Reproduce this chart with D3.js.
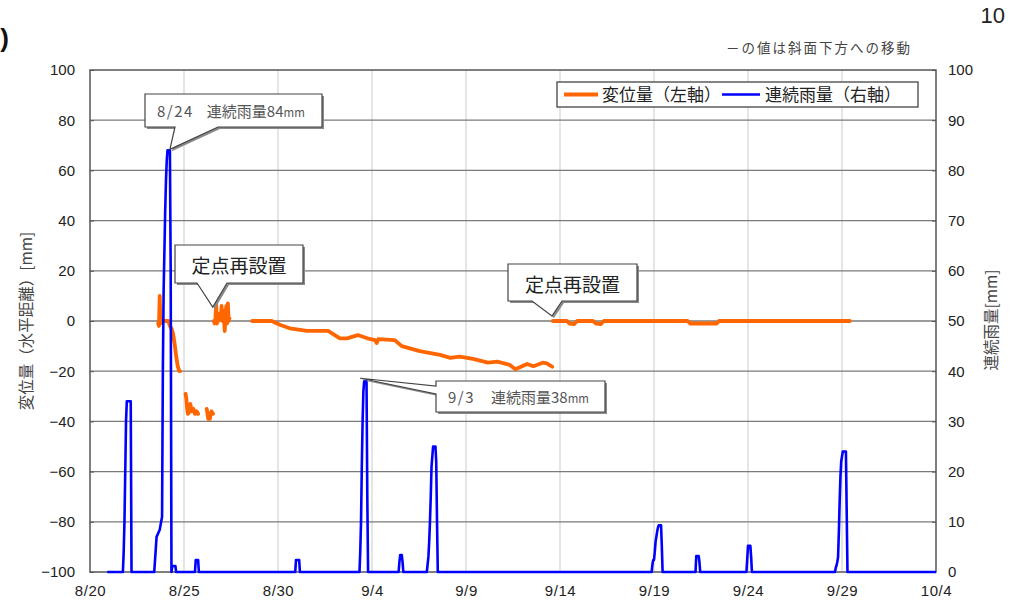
<!DOCTYPE html>
<html>
<head>
<meta charset="utf-8">
<script src="https://cdn.jsdelivr.net/npm/d3@7"></script>
<style>
  body { margin: 0; background: #fff; }
  svg { display: block; }
</style>
</head>
<body>
<svg id="chart" width="1012" height="604"></svg>
<script>
// ---- data -------------------------------------------------------------
// hourly cumulative rainfall [mm] (right axis)
const rainSeries = [
  ["8/20 22:00", 0], ["8/21 18:00", 0], ["8/21 19:00", 4], ["8/21 20:00", 10],
  ["8/21 21:00", 20], ["8/21 22:00", 30], ["8/21 23:00", 34], ["8/22 04:00", 34],
  ["8/22 05:00", 0], ["8/23 10:00", 0], ["8/23 13:00", 7], ["8/23 17:00", 8.4],
  ["8/23 20:00", 11], ["8/23 21:00", 40], ["8/23 22:00", 56], ["8/23 23:00", 64],
  ["8/24 00:00", 72], ["8/24 01:00", 78], ["8/24 02:00", 82], ["8/24 03:00", 84],
  ["8/24 06:00", 84], ["8/24 07:00", 60], ["8/24 08:00", 0], ["8/24 09:00", 1.2],
  ["8/24 13:00", 1.2], ["8/24 14:00", 0], ["8/25 14:00", 0], ["8/25 15:00", 2.4],
  ["8/25 18:00", 2.4], ["8/25 19:00", 0], ["8/30 22:00", 0], ["8/30 23:00", 2.4],
  ["8/31 03:00", 2.4], ["8/31 04:00", 0], ["9/3 08:00", 0], ["9/3 09:00", 4],
  ["9/3 10:00", 10], ["9/3 11:00", 21], ["9/3 12:00", 30], ["9/3 13:00", 36],
  ["9/3 14:00", 38], ["9/3 17:00", 38], ["9/3 18:00", 15], ["9/3 19:00", 0],
  ["9/5 10:00", 0], ["9/5 11:00", 2], ["9/5 12:00", 3.4], ["9/5 14:00", 3.4],
  ["9/5 15:00", 2], ["9/5 16:00", 0], ["9/6 22:00", 0], ["9/7 00:00", 3],
  ["9/7 01:00", 6], ["9/7 02:00", 10], ["9/7 03:00", 15], ["9/7 04:00", 21],
  ["9/7 06:00", 25], ["9/7 09:00", 25], ["9/7 10:00", 22], ["9/7 11:00", 10],
  ["9/7 12:00", 0], ["9/18 21:00", 0], ["9/18 22:00", 1.5], ["9/18 23:00", 2.4],
  ["9/19 00:00", 2.4], ["9/19 01:00", 4], ["9/19 02:00", 6], ["9/19 03:00", 7],
  ["9/19 04:00", 8], ["9/19 05:00", 8.8], ["9/19 06:00", 9.3], ["9/19 09:00", 9.3],
  ["9/19 10:00", 5], ["9/19 11:00", 0], ["9/21 05:00", 0], ["9/21 06:00", 3.2],
  ["9/21 09:00", 3.2], ["9/21 10:00", 2], ["9/21 11:00", 0], ["9/23 22:00", 0],
  ["9/23 23:00", 2.5], ["9/24 00:00", 5.2], ["9/24 03:00", 5.2], ["9/24 04:00", 3],
  ["9/24 05:00", 0], ["9/28 15:00", 0], ["9/28 16:00", 0.8], ["9/28 17:00", 1.3],
  ["9/28 18:00", 2], ["9/28 19:00", 3], ["9/28 20:00", 8], ["9/28 21:00", 14],
  ["9/28 22:00", 19], ["9/28 23:00", 22], ["9/29 00:00", 23], ["9/29 01:00", 24],
  ["9/29 05:00", 24], ["9/29 06:00", 12], ["9/29 07:00", 0], ["10/4 00:00", 0]
];

// horizontal displacement [mm] (left axis); null = no record / line break
const dispSeries = [
  ["8/23 15:00", -1], ["8/23 16:00", -2], ["8/23 17:00", 10], ["8/23 18:00", -1],
  ["8/23 19:00", 0], ["8/24 04:00", 0], ["8/24 06:00", -2], ["8/24 08:00", -3],
  ["8/24 10:00", -5], ["8/24 12:00", -9], ["8/24 14:00", -14], ["8/24 16:00", -18],
  ["8/24 18:00", -20], ["8/24 19:00", -20],
  ["8/24 22:00", null],
  ["8/25 02:00", -29], ["8/25 03:00", -31], ["8/25 04:00", -35], ["8/25 05:00", -37],
  ["8/25 07:00", -36], ["8/25 08:00", -33], ["8/25 10:00", -36], ["8/25 12:00", -35],
  ["8/25 14:00", -37], ["8/25 16:00", -36], ["8/25 18:00", -37],
  ["8/25 23:00", null],
  ["8/26 05:00", -35], ["8/26 06:00", -37], ["8/26 07:00", -39], ["8/26 08:00", -38],
  ["8/26 09:00", -39], ["8/26 10:00", -37], ["8/26 11:00", -36], ["8/26 13:00", -37],
  ["8/26 13:30", null],
  ["8/26 14:00", 0], ["8/26 15:00", -1], ["8/26 16:00", 0], ["8/26 17:00", 7],
  ["8/26 18:00", -1], ["8/26 19:00", 1], ["8/26 20:00", 0], ["8/26 21:00", 2],
  ["8/26 22:00", 3], ["8/26 23:00", 1], ["8/27 00:00", 6], ["8/27 01:00", 0],
  ["8/27 02:00", 4], ["8/27 03:00", 1], ["8/27 04:00", -4], ["8/27 05:00", 3],
  ["8/27 06:00", 6], ["8/27 07:00", -1], ["8/27 08:00", 7], ["8/27 09:00", 0],
  ["8/27 10:00", 1],
  ["8/27 12:00", null],
  ["8/28 15:00", 0], ["8/29 16:00", 0], ["8/30 03:00", -1.6], ["8/30 15:00", -2.9],
  ["8/31 13:00", -3.9], ["9/1 16:00", -3.9], ["9/2 07:00", -6.9], ["9/2 16:00", -6.9],
  ["9/3 06:00", -5.6], ["9/3 18:00", -6.9], ["9/4 04:00", -7.6], ["9/4 06:00", -8.8],
  ["9/4 08:00", -7.2], ["9/5 05:00", -7.6], ["9/5 14:00", -10], ["9/6 13:00", -12],
  ["9/6 23:00", -12.6], ["9/7 15:00", -13.5], ["9/8 04:00", -14.7], ["9/8 16:00", -14.2],
  ["9/9 09:00", -15.1], ["9/10 04:00", -16.6], ["9/10 16:00", -16.2], ["9/11 08:00", -17.5],
  ["9/11 15:00", -19.2], ["9/12 06:00", -17.1], ["9/12 14:00", -18], ["9/13 02:00", -16.6],
  ["9/13 07:00", -16.9], ["9/13 14:00", -18.2],
  ["9/13 14:30", null],
  ["9/13 15:00", 0], ["9/14 09:00", 0], ["9/14 12:00", -1], ["9/14 18:00", -1.2],
  ["9/14 22:00", 0], ["9/15 18:00", 0], ["9/15 22:00", -1], ["9/16 04:00", -1.2],
  ["9/16 08:00", 0], ["9/20 19:00", 0], ["9/20 22:00", -1], ["9/22 04:00", -1],
  ["9/22 08:00", -1], ["9/22 11:00", 0], ["9/29 10:00", 0]
];

const leftTicks = [-100, -80, -60, -40, -20, 0, 20, 40, 60, 80, 100];
const rightTicks = [0, 10, 20, 30, 40, 50, 60, 70, 80, 90, 100];
const dateTicks = ["8/20", "8/25", "8/30", "9/4", "9/9", "9/14", "9/19", "9/24", "9/29", "10/4"];
const resetTimes = ["8/26 14:00", "9/13 15:00"];
const rainPeakTimes = ["8/24 06:00", "9/3 14:00"];

// ---- setup ------------------------------------------------------------
const parseT = d3.timeParse("%m/%d %H:%M");
const parseD = d3.timeParse("%m/%d");
const rain = rainSeries.map(([t, v]) => ({ t: parseT(t), v }));
const disp = dispSeries.map(([t, v]) => ({ t: parseT(t), v }));

const L = 90, R = 936, T = 70, B = 572;
const svg = d3.select("#chart");
const LATIN = "'Liberation Sans', Arial, sans-serif";
const CJK = "'Noto Sans CJK JP', sans-serif";

const x = d3.scaleTime().domain([parseD("8/20"), parseD("10/4")]).range([L, R]);
const yL = d3.scaleLinear().domain([-100, 100]).range([B, T]);
const yR = d3.scaleLinear().domain([0, 100]).range([B, T]);

// ---- grid -------------------------------------------------------------
const grid = svg.append("g");
grid.selectAll("line.v").data(dateTicks.slice(1, -1).map(parseD)).join("line")
  .attr("x1", d => x(d)).attr("x2", d => x(d)).attr("y1", T).attr("y2", B)
  .attr("stroke", "#d4d4d4").attr("stroke-width", 1.2);
grid.selectAll("line.h").data(leftTicks.slice(1, -1)).join("line")
  .attr("x1", L).attr("x2", R).attr("y1", d => yL(d)).attr("y2", d => yL(d))
  .attr("stroke", "#7a7a7a").attr("stroke-width", 1.3);
svg.append("rect").attr("x", L).attr("y", T).attr("width", R - L).attr("height", B - T)
  .attr("fill", "none").attr("stroke", "#555").attr("stroke-width", 1.5);

// ---- axes -------------------------------------------------------------
function styleAxis(g) {
  g.select(".domain").remove();
  g.selectAll(".tick line").attr("stroke", "#555");
  g.selectAll("text").attr("font-family", LATIN).attr("font-size", 15).attr("fill", "#222");
}
svg.append("g").attr("transform", `translate(${L},0)`)
  .call(d3.axisLeft(yL).tickValues(leftTicks).tickSize(-4).tickPadding(15).tickFormat(d3.format("d")))
  .call(styleAxis);
svg.append("g").attr("transform", `translate(${R},0)`)
  .call(d3.axisRight(yR).tickValues(rightTicks).tickSize(-4).tickPadding(12).tickFormat(d3.format("d")))
  .call(styleAxis);
svg.append("g").attr("transform", `translate(0,${B})`)
  .call(d3.axisBottom(x).tickValues(dateTicks.map(parseD)).tickSize(0).tickPadding(13)
    .tickFormat(d3.timeFormat("%-m/%-d")))
  .call(styleAxis)
  .selectAll("text").attr("letter-spacing", 0.6);

// axis titles
svg.append("text").attr("transform", "translate(32,321) rotate(-90)")
  .attr("text-anchor", "middle").attr("font-family", CJK).attr("font-size", 15.5)
  .attr("fill", "#444").text("変位量（水平距離）[mm]");
svg.append("text").attr("transform", "translate(997,320) rotate(-90)")
  .attr("text-anchor", "middle").attr("font-family", CJK).attr("font-size", 15.5)
  .attr("fill", "#444").text("連続雨量[mm]");

// ---- series -----------------------------------------------------------
svg.append("path").datum(disp)
  .attr("d", d3.line().defined(d => d.v != null).x(d => x(d.t)).y(d => yL(d.v)))
  .attr("fill", "none").attr("stroke", "#ff6600").attr("stroke-width", 3.8)
  .attr("stroke-linejoin", "round").attr("stroke-linecap", "round");
svg.append("path").datum(rain)
  .attr("d", d3.line().x(d => x(d.t)).y(d => yR(d.v)))
  .attr("fill", "none").attr("stroke", "#0000ff").attr("stroke-width", 2.6)
  .attr("stroke-linejoin", "round");

// ---- callouts ---------------------------------------------------------
function bottomPointer(x0, y0, x1, y1, a, b, tx, ty) {
  return `M${x0},${y0}H${x1}V${y1}H${b}L${tx},${ty}L${a},${y1}H${x0}Z`;
}
function leftPointer(x0, y0, x1, y1, a, b, tx, ty) {
  return `M${x0},${y0}H${x1}V${y1}H${x0}V${b}L${tx},${ty}L${x0},${a}Z`;
}
function drawCallout(d) {
  const g = svg.append("g");
  g.append("path").attr("d", d).attr("transform", "translate(2,2)").attr("fill", "#8a8a8a");
  g.append("path").attr("d", d).attr("fill", "#fff").attr("stroke", "#444").attr("stroke-width", 1.2);
  return g;
}
function rainLabel(g, tx, ty, time, gap) {
  const p = rain.find(d => +d.t === +parseT(time));
  const t = g.append("text").attr("x", tx).attr("y", ty)
    .attr("font-family", CJK).attr("font-size", 15).attr("fill", "#555");
  t.append("tspan").attr("letter-spacing", 1.5).text(d3.timeFormat("%-m/%-d")(p.t));
  t.append("tspan").attr("dx", gap).text("連続雨量" + p.v);
  t.append("tspan").attr("font-size", 11.5).text("mm");
}

// 8/24 peak
{
  const p = rain.find(d => +d.t === +parseT(rainPeakTimes[0]));
  const g = drawCallout(bottomPointer(145, 94, 322, 127, 175, 218, x(p.t), yR(p.v) - 1));
  rainLabel(g, 157, 117, rainPeakTimes[0], 13);
}
// 9/3 peak
{
  const p = rain.find(d => +d.t === +parseT(rainPeakTimes[1]));
  const g = drawCallout(leftPointer(436, 381, 605, 412, 386, 394, x(p.t) - 4, yR(p.v) - 3));
  rainLabel(g, 448, 403, rainPeakTimes[1], 16);
}
// reinstallation points
[[175, 245, 303, 283, 197, 227], [508, 264, 637, 301, 532, 562]].forEach((b, i) => {
  const tx = x(parseT(resetTimes[i])) - 1;
  const ty = i === 0 ? yL(0) - 14 : yL(0) - 5;
  const g = drawCallout(bottomPointer(b[0], b[1], b[2], b[3], b[4], b[5], tx, ty));
  g.append("text").attr("x", (b[0] + b[2]) / 2).attr("y", b[1] + 28)
    .attr("text-anchor", "middle").attr("font-family", CJK).attr("font-size", 19)
    .attr("fill", "#222").text("定点再設置");
});

// ---- legend -----------------------------------------------------------
const lg = svg.append("g");
lg.append("rect").attr("x", 557).attr("y", 82).attr("width", 361).attr("height", 25)
  .attr("fill", "#fff").attr("stroke", "#444").attr("stroke-width", 1.3);
lg.append("line").attr("x1", 564).attr("x2", 598).attr("y1", 94.5).attr("y2", 94.5)
  .attr("stroke", "#ff6600").attr("stroke-width", 4);
lg.append("text").attr("x", 602).attr("y", 101).attr("font-family", CJK).attr("font-size", 17)
  .attr("fill", "#222").text("変位量（左軸）");
lg.append("line").attr("x1", 722).attr("x2", 760).attr("y1", 94.5).attr("y2", 94.5)
  .attr("stroke", "#0000ff").attr("stroke-width", 2.5);
lg.append("text").attr("x", 765).attr("y", 101).attr("font-family", CJK).attr("font-size", 17)
  .attr("fill", "#222").text("連続雨量（右軸）");

// ---- notes ------------------------------------------------------------
svg.append("text").attr("x", 912).attr("y", 53).attr("text-anchor", "end")
  .attr("font-family", CJK).attr("font-size", 13.5).attr("letter-spacing", 2)
  .attr("fill", "#444").text("－の値は斜面下方への移動");
svg.append("text").attr("x", 1005).attr("y", 23).attr("text-anchor", "end")
  .attr("font-family", LATIN).attr("font-size", 22).attr("fill", "#222").text("10");
svg.append("text").attr("x", 9).attr("y", 47).attr("text-anchor", "end")
  .attr("font-family", LATIN).attr("font-size", 26).attr("font-weight", "bold")
  .attr("fill", "#111").text(")");
</script>
</body>
</html>
